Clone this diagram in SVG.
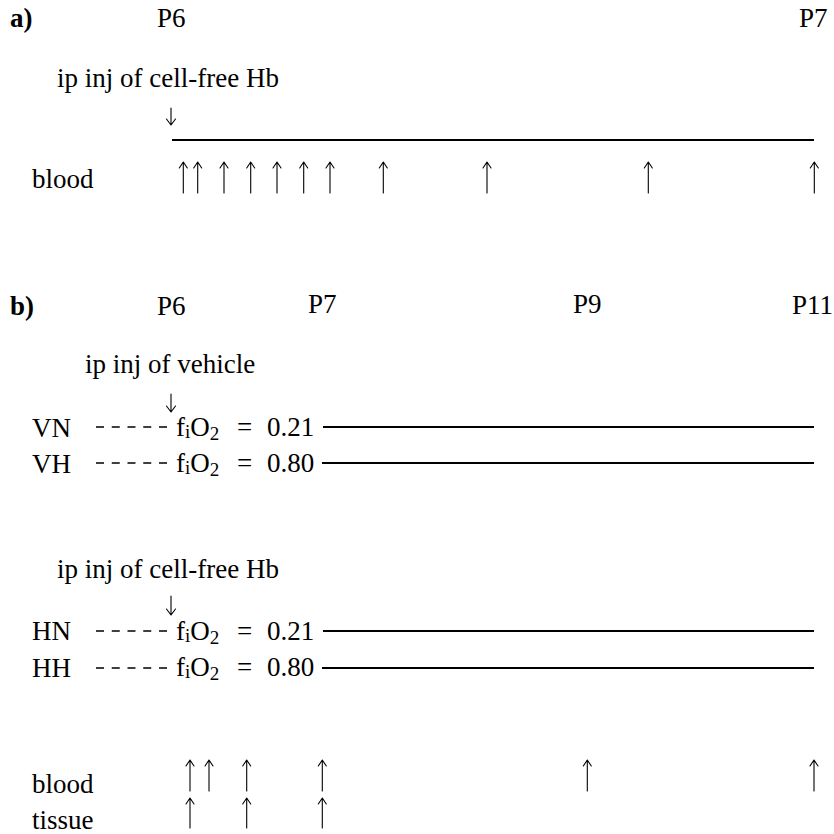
<svg xmlns="http://www.w3.org/2000/svg" width="834" height="834" viewBox="0 0 834 834">
<style>
text{font-family:"Liberation Serif","DejaVu Serif","Noto Serif",serif;font-size:27px;fill:#000}
.b{font-weight:bold}
.sub{font-size:19px}
.tl{stroke:#000;stroke-width:2;fill:none}
.dash{stroke:#000;stroke-width:1.6;stroke-dasharray:8 7.75;fill:none}
.ar{stroke:#000;stroke-width:1.1;fill:none;stroke-linecap:round;stroke-linejoin:round}
</style>
<rect width="834" height="834" fill="#fff"/>

<g id="panel-a">
<text class="b" x="10" y="27">a)</text>
<text x="157" y="27">P6</text>
<text x="799" y="27">P7</text>
<text x="57" y="87">ip inj of cell-free Hb</text>
<text x="32" y="188">blood</text>
</g>

<g id="panel-b-header">
<text class="b" x="10" y="315">b)</text>
<text x="157" y="315">P6</text>
<text x="308" y="313">P7</text>
<text x="573" y="313">P9</text>
<text x="792" y="314">P11</text>
<text x="85" y="373">ip inj of vehicle</text>
<text x="57" y="578">ip inj of cell-free Hb</text>
</g>

<g id="row-VN">
<text x="32" y="437">VN</text>
<text x="176" y="436">f<tspan class="sub" dy="2">i</tspan><tspan dy="-2">O</tspan><tspan class="sub" dy="4">2</tspan></text>
<text x="237" y="436">=</text>
<text x="267" y="436">0.21</text>
</g>
<g id="row-VH">
<text x="32" y="473">VH</text>
<text x="176" y="472">f<tspan class="sub" dy="2">i</tspan><tspan dy="-2">O</tspan><tspan class="sub" dy="4">2</tspan></text>
<text x="237" y="472">=</text>
<text x="267" y="472">0.80</text>
</g>
<g id="row-HN">
<text x="32" y="640">HN</text>
<text x="176" y="640">f<tspan class="sub" dy="2">i</tspan><tspan dy="-2">O</tspan><tspan class="sub" dy="4">2</tspan></text>
<text x="237" y="640">=</text>
<text x="267" y="640">0.21</text>
</g>
<g id="row-HH">
<text x="32" y="677">HH</text>
<text x="176" y="676">f<tspan class="sub" dy="2">i</tspan><tspan dy="-2">O</tspan><tspan class="sub" dy="4">2</tspan></text>
<text x="237" y="676">=</text>
<text x="267" y="676">0.80</text>
</g>
<g id="samples-label">
<text x="32" y="793">blood</text>
<text x="32" y="829">tissue</text>
</g>

<g id="connectors">
<line class="tl" x1="172" y1="140" x2="814" y2="140"/>
<line class="dash" x1="96" y1="427" x2="168" y2="427"/>
<line class="tl" x1="323" y1="427" x2="814" y2="427"/>
<line class="dash" x1="96" y1="463" x2="168" y2="463"/>
<line class="tl" x1="322" y1="463" x2="814" y2="463"/>
<line class="dash" x1="96" y1="631" x2="168" y2="631"/>
<line class="tl" x1="323" y1="631" x2="814" y2="631"/>
<line class="dash" x1="96" y1="668" x2="168" y2="668"/>
<line class="tl" x1="322" y1="668" x2="814" y2="668"/>
<path class="ar" d="M171 108V125M166.5 119L171 125L175.5 119"/>
<path class="ar" d="M171 394V412M166.5 406L171 412L175.5 406"/>
<path class="ar" d="M171 596V615M166.5 609L171 615L175.5 609"/>
<path class="ar" d="M183.3 193V162M179.3 168L183.3 162L187.3 168
M197.7 193V162M193.7 168L197.7 162L201.7 168
M224 193V162M220 168L224 162L228 168
M250.7 193V162M246.7 168L250.7 162L254.7 168
M277 193V162M273 168L277 162L281 168
M303.7 193V162M299.7 168L303.7 162L307.7 168
M330 193V162M326 168L330 162L334 168
M383.3 193V162M379.3 168L383.3 162L387.3 168
M487 193V162M483 168L487 162L491 168
M648.3 193V162M644.3 168L648.3 162L652.3 168
M814.3 193V162M810.3 168L814.3 162L818.3 168"/>
<path class="ar" d="M190 791V760M186 766L190 760L194 766
M209 791V760M205 766L209 760L213 766
M246.7 791V760M242.7 766L246.7 760L250.7 766
M322.3 791V760M318.3 766L322.3 760L326.3 766
M587.3 791V760M583.3 766L587.3 760L591.3 766
M814 791V760M810 766L814 760L818 766"/>
<path class="ar" d="M190 828V798M186 804L190 798L194 804
M246.7 828V798M242.7 804L246.7 798L250.7 804
M322.3 828V798M318.3 804L322.3 798L326.3 804"/>
</g>
</svg>
